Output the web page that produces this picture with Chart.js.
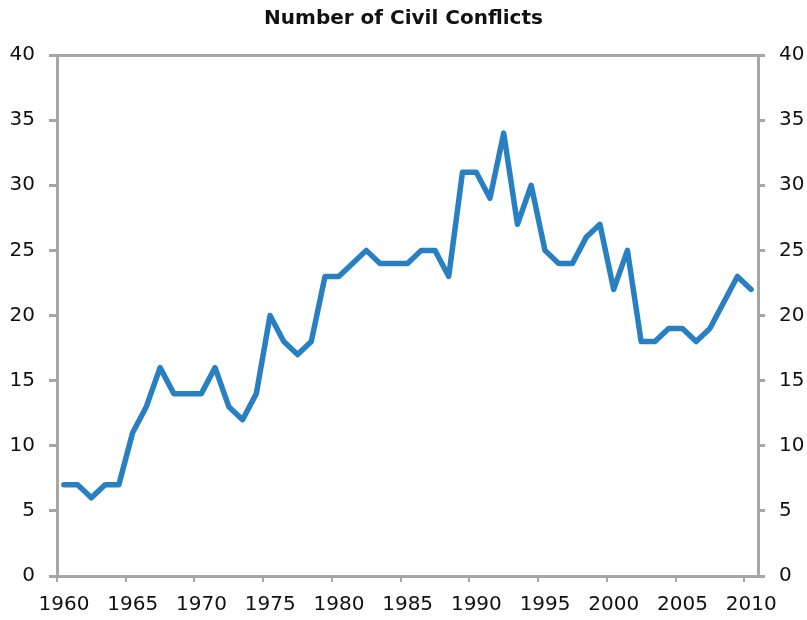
<!DOCTYPE html>
<html>
<head>
<meta charset="utf-8">
<script src="https://cdn.jsdelivr.net/npm/chart.js@4.4.1/dist/chart.umd.min.js"></script>
<style>
  html, body { margin: 0; padding: 0; background: #ffffff; }
  #wrap { width: 807px; height: 620px; }
</style>
</head>
<body>
<div id="wrap"><canvas id="c" width="807" height="620"></canvas></div>
<script>
const chartTitle = 'Number of Civil Conflicts';
const years = [1960,1961,1962,1963,1964,1965,1966,1967,1968,1969,
               1970,1971,1972,1973,1974,1975,1976,1977,1978,1979,
               1980,1981,1982,1983,1984,1985,1986,1987,1988,1989,
               1990,1991,1992,1993,1994,1995,1996,1997,1998,1999,
               2000,2001,2002,2003,2004,2005,2006,2007,2008,2009,2010];
const conflicts = [7,7,6,7,7,11,13,16,14,14,
                   14,16,13,12,14,20,18,17,18,23,
                   23,24,25,24,24,24,25,25,23,31,
                   31,29,34,27,30,25,24,24,26,27,
                   22,25,18,18,19,19,18,19,21,23,22];
const xTickYears = [1960,1965,1970,1975,1980,1985,1990,1995,2000,2005,2010];
const yTicks = [0,5,10,15,20,25,30,35,40];

const axisGray = '#a6a6a6';
const lineBlue = '#2880c2';
const tickFont = { family: 'DejaVu Sans', size: 20 };

const points = years.map((yr, i) => ({ x: yr + 0.5, y: conflicts[i] }));

new Chart(document.getElementById('c'), {
  type: 'line',
  data: {
    datasets: [{
      data: points,
      borderColor: lineBlue,
      borderWidth: 5.5,
      pointRadius: 0,
      tension: 0,
      borderCapStyle: 'round',
      borderJoinStyle: 'round',
      fill: false
    }]
  },
  options: {
    responsive: false,
    animation: false,
    layout: { padding: 0 },
    plugins: {
      legend: { display: false },
      tooltip: { enabled: false },
      title: {
        display: true,
        text: chartTitle,
        color: '#111',
        font: { family: 'DejaVu Sans', size: 20, weight: 'bold' },
        padding: { top: 7, bottom: 24 }
      }
    },
    scales: {
      x: {
        type: 'linear',
        min: years[0],
        max: years[years.length - 1] + 1,
        afterBuildTicks: (s) => { s.ticks = xTickYears.map(v => ({ value: v })); },
        afterFit: (s) => { s.height = 44; },
        border: { display: true, color: axisGray, width: 3 },
        grid: { drawOnChartArea: false, drawTicks: true, tickLength: 6, color: axisGray, lineWidth: 2 },
        ticks: {
          color: '#111', font: tickFont, padding: 11, labelOffset: 7,
          maxRotation: 0, autoSkip: false,
          callback: (v) => String(v)
        }
      },
      y: {
        position: 'left',
        min: 0, max: 40,
        afterBuildTicks: (s) => { s.ticks = yTicks.map(v => ({ value: v })); },
        afterFit: (s) => { s.width = 57; },
        border: { display: true, color: axisGray, width: 3 },
        grid: {
          drawOnChartArea: true, drawTicks: true, tickLength: 8,
          color: (ctx) => (ctx.tick && ctx.tick.value === 40) ? axisGray : 'rgba(0,0,0,0)',
          tickColor: axisGray, lineWidth: 3
        },
        ticks: { color: '#111', font: tickFont, padding: 14 }
      },
      y2: {
        position: 'right',
        min: 0, max: 40,
        afterBuildTicks: (s) => { s.ticks = yTicks.map(v => ({ value: v })); },
        afterFit: (s) => { s.width = 49; },
        border: { display: true, color: axisGray, width: 3 },
        grid: { drawOnChartArea: false, drawTicks: true, tickLength: 7, color: axisGray, lineWidth: 3 },
        ticks: { color: '#111', font: tickFont, padding: 14 }
      }
    }
  }
});
</script>
</body>
</html>
